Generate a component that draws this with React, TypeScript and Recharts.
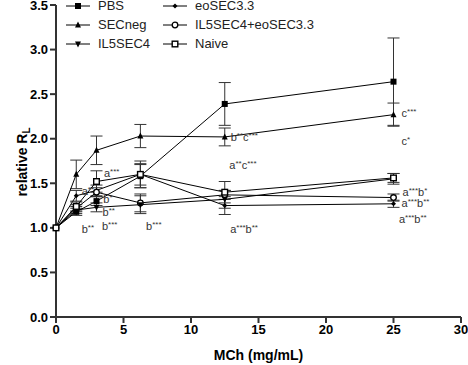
import React from "react";
import {
  LineChart,
  Line,
  XAxis,
  YAxis,
  ErrorBar,
  ReferenceDot,
  Label,
} from "recharts";

// MCh doses (mg/mL)
const doses = [0, 1.5, 3, 6.25, 12.5, 25];

const pbs = [1.0, 1.18, 1.3, 1.58, 2.39, 2.64];
const pbsErr = [0, 0.04, 0.05, 0.13, 0.24, 0.49];
const secneg = [1.0, 1.6, 1.87, 2.03, 2.02, 2.27];
const secnegErr = [0, 0.16, 0.16, 0.13, 0.1, 0.13];
const il5 = [1.0, 1.2, 1.23, 1.26, 1.32, 1.55];
const il5Err = [0, 0.04, 0.05, 0.1, 0.1, 0.06];
const eo = [1.0, 1.36, 1.42, 1.6, 1.25, 1.27];
const eoErr = [0, 0.06, 0.06, 0.12, 0.1, 0.04];
const combo = [1.0, 1.22, 1.4, 1.28, 1.37, 1.34];
const comboErr = [0, 0.04, 0.05, 0.1, 0.05, 0.04];
const naive = [1.0, 1.24, 1.52, 1.6, 1.4, 1.56];
const naiveErr = [0, 0.05, 0.12, 0.15, 0.12, 0.05];

const xTicks = [0, 5, 10, 15, 20, 25, 30];
const yTicks = [0, 0.5, 1, 1.5, 2, 2.5, 3, 3.5];

// significance labels: [x, y, text]
const notes: [number, number, string][] = [
  [3.55, 1.61, "a***"],
  [1.9, 1.41, "a**"],
  [3.5, 1.32, "b*"],
  [3.45, 1.18, "b**"],
  [3.4, 1.02, "b***"],
  [1.9, 0.99, "b**"],
  [6.67, 1.02, "b***"],
  [12.94, 2.02, "b**c***"],
  [12.84, 1.71, "a**c***"],
  [12.9, 0.99, "a***b**"],
  [25.6, 2.29, "c***"],
  [25.6, 1.975, "c*"],
  [25.67, 1.4, "a***b*"],
  [25.6, 1.275, "a***b**"],
  [25.4, 1.1, "a***b**"],
];

const data = doses.map((d, i) => ({
  x: d,
  pbs: pbs[i],
  pbsErr: pbsErr[i],
  secneg: secneg[i],
  secnegErr: secnegErr[i],
  il5: il5[i],
  il5Err: il5Err[i],
  eo: eo[i],
  eoErr: eoErr[i],
  combo: combo[i],
  comboErr: comboErr[i],
  naive: naive[i],
  naiveErr: naiveErr[i],
}));

type Kind = "square" | "up" | "down" | "diamond" | "circle" | "osquare";

const Marker = ({ cx, cy, kind }: { cx: number; cy: number; kind: Kind }) => {
  if (cx == null || cy == null) return null;
  switch (kind) {
    case "square":
      return <rect x={cx - 3} y={cy - 3} width={6} height={6} fill="#000" />;
    case "up":
      return <polygon points={`${cx},${cy - 3.5} ${cx - 3},${cy + 2.5} ${cx + 3},${cy + 2.5}`} fill="#000" />;
    case "down":
      return <polygon points={`${cx},${cy + 3.5} ${cx - 3},${cy - 2.5} ${cx + 3},${cy - 2.5}`} fill="#000" />;
    case "diamond":
      return <polygon points={`${cx},${cy - 2.5} ${cx + 2.5},${cy} ${cx},${cy + 2.5} ${cx - 2.5},${cy}`} fill="#000" />;
    case "circle":
      return <circle cx={cx} cy={cy} r={2.8} fill="#fff" stroke="#000" strokeWidth={1.3} />;
    case "osquare":
      return (
        <rect x={cx - 2.8} y={cy - 2.8} width={5.6} height={5.6} fill="#fff" stroke="#000" strokeWidth={1.4} />
      );
  }
  return null;
};

const dotOf = (kind: Kind) => (p: any) =>
  <Marker key={`${kind}-${p.index}`} cx={p.cx} cy={p.cy} kind={kind} />;

const series: { key: string; name: string; kind: Kind }[] = [
  { key: "pbs", name: "PBS", kind: "square" },
  { key: "eo", name: "eoSEC3.3", kind: "diamond" },
  { key: "secneg", name: "SECneg", kind: "up" },
  { key: "combo", name: "IL5SEC4+eoSEC3.3", kind: "circle" },
  { key: "il5", name: "IL5SEC4", kind: "down" },
  { key: "naive", name: "Naive", kind: "osquare" },
];

const Note = ({ cx, cy, text }: { cx: number; cy: number; text: string }) => {
  const parts = text.match(/[a-z]\**/g) || [];
  const out: React.ReactNode[] = [];
  let raised = false;
  parts.forEach((p, i) => {
    const letter = p[0];
    const stars = p.slice(1);
    out.push(
      <tspan key={`l${i}`} dy={raised ? 3 : 0}>
        {letter}
      </tspan>
    );
    raised = false;
    if (stars) {
      out.push(
        <tspan key={`s${i}`} dy={-3} fontSize={8}>
          {stars}
        </tspan>
      );
      raised = true;
    }
  });
  return (
    <text x={cx} y={cy + 4} fontSize={11} fill="#333" fontFamily="'Liberation Sans', Arial, sans-serif">
      {out}
    </text>
  );
};

const LegendBox = () => (
  <div
    style={{
      position: "absolute",
      top: -4,
      left: 66,
      display: "grid",
      gridTemplateColumns: "97px 220px",
      fontFamily: "'Liberation Sans', Arial, sans-serif",
      fontSize: 13,
      color: "#222",
      pointerEvents: "none",
    }}
  >
    {series.map((s) => (
      <div key={s.key} style={{ display: "flex", alignItems: "center", height: 19 }}>
        <svg width={32} height={12}>
          <line x1={0} y1={6} x2={24} y2={6} stroke="#000" strokeWidth={1} />
          <Marker cx={12} cy={6} kind={s.kind} />
        </svg>
        <span>{s.name}</span>
      </div>
    ))}
  </div>
);

const axisTick = {
  fill: "#000",
  fontSize: 13,
  fontWeight: 700,
  fontFamily: "'Liberation Sans', Arial, sans-serif",
};

export default function App() {
  return (
    <div style={{ position: "relative", width: 468, height: 365, background: "#fff" }}>
      <style>{`body{margin:0}`}</style>
      <LineChart
        width={468}
        height={365}
        data={data}
        margin={{ top: 5, right: 7, left: 0, bottom: 0 }}
      >
        <XAxis
          dataKey="x"
          type="number"
          domain={[0, 30]}
          ticks={xTicks}
          axisLine={{ stroke: "#333", strokeWidth: 2 }}
          tickLine={{ stroke: "#333", strokeWidth: 2 }}
          tickSize={6}
          tick={axisTick}
          height={48}
          interval={0}
        >
          <Label
            value="MCh (mg/mL)"
            position="insideBottom"
            offset={5}
            style={{ fill: "#000", fontSize: 14, fontWeight: 700, fontFamily: "'Liberation Sans', Arial, sans-serif" }}
          />
        </XAxis>
        <YAxis
          type="number"
          domain={[0, 3.5]}
          ticks={yTicks}
          tickFormatter={(v: number) => v.toFixed(1)}
          axisLine={{ stroke: "#333", strokeWidth: 2 }}
          tickLine={{ stroke: "#333", strokeWidth: 2 }}
          tickSize={6}
          tick={axisTick}
          width={56}
          interval={0}
        >
          <Label
            content={() => (
              <text
                transform="translate(27,162) rotate(-90)"
                textAnchor="middle"
                fill="#000"
                fontSize={14}
                fontWeight={700}
                fontFamily="'Liberation Sans', Arial, sans-serif"
              >
                relative R
                <tspan fontSize={10} dy={3}>L</tspan>
              </text>
            )}
          />
        </YAxis>
        {series.map((s) => (
          <Line
            key={s.key}
            dataKey={s.key}
            name={s.name}
            stroke="#000"
            strokeWidth={1}
            dot={dotOf(s.kind)}
            activeDot={false}
            isAnimationActive={false}
          >
            <ErrorBar dataKey={`${s.key}Err`} direction="y" width={6} stroke="#333" strokeWidth={1} />
          </Line>
        ))}
        {notes.map(([x, y, t], i) => (
          <ReferenceDot
            key={i}
            x={x}
            y={y}
            r={0}
            ifOverflow="visible"
            shape={(p: any) => <Note cx={p.cx} cy={p.cy} text={t} />}
          />
        ))}
      </LineChart>
      <LegendBox />
    </div>
  );
}
